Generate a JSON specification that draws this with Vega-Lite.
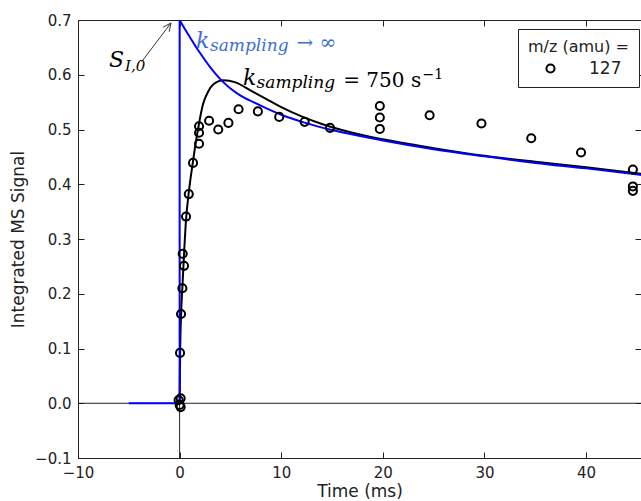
{
  "$schema": "https://vega.github.io/schema/vega-lite/v6.json",
  "width": 563,
  "height": 438,
  "autosize": "none",
  "padding": {"left": 78, "top": 20, "right": 0, "bottom": 43},
  "background": "white",
  "config": {
    "view": {"stroke": "#222", "strokeWidth": 1},
    "axis": {
      "grid": false,
      "domainColor": "#222",
      "tickColor": "#222",
      "labelColor": "#222",
      "titleColor": "#222",
      "labelFont": "DejaVu Sans",
      "titleFont": "DejaVu Sans",
      "labelFontSize": 15,
      "titleFontSize": 17,
      "titleFontWeight": "normal",
      "tickSize": -6,
      "labelPadding": 13,
      "labelFlush": false,
      "labelOverlap": false
    },
    "legend": {"labelFont": "DejaVu Sans", "titleFont": "DejaVu Sans"}
  },
  "datasets": {
    "blueStep": [
      {"t": -5, "v": 0, "o": 1},
      {"t": 0, "v": 0, "o": 2},
      {"t": 0, "v": 0.7, "o": 3}
    ],
    "blueDecay": [
      {"t": 0, "v": 0.7}, {"t": 0.5, "v": 0.684}, {"t": 1, "v": 0.669}, {"t": 1.5, "v": 0.654},
      {"t": 2.3, "v": 0.632}, {"t": 3, "v": 0.614}, {"t": 4, "v": 0.592}, {"t": 5, "v": 0.575},
      {"t": 6, "v": 0.562}, {"t": 7.25, "v": 0.55}, {"t": 8.5, "v": 0.539}, {"t": 10, "v": 0.527},
      {"t": 12.2, "v": 0.513}, {"t": 15, "v": 0.499}, {"t": 17.5, "v": 0.489}, {"t": 20, "v": 0.48},
      {"t": 25, "v": 0.464}, {"t": 30, "v": 0.451}, {"t": 35, "v": 0.439}, {"t": 40, "v": 0.429},
      {"t": 45.4, "v": 0.417}
    ],
    "black": [
      {"t": 0, "v": 0}, {"t": 0.05, "v": 0.09}, {"t": 0.15, "v": 0.165}, {"t": 0.28, "v": 0.215},
      {"t": 0.4, "v": 0.26}, {"t": 0.63, "v": 0.335}, {"t": 0.9, "v": 0.385}, {"t": 1.3, "v": 0.44},
      {"t": 1.9, "v": 0.51}, {"t": 2.3, "v": 0.546}, {"t": 2.8, "v": 0.569}, {"t": 3.3, "v": 0.582},
      {"t": 4.3, "v": 0.59}, {"t": 5.5, "v": 0.586}, {"t": 7, "v": 0.571}, {"t": 8.5, "v": 0.556},
      {"t": 10, "v": 0.541}, {"t": 12, "v": 0.524}, {"t": 14, "v": 0.51}, {"t": 17, "v": 0.494},
      {"t": 20, "v": 0.482}, {"t": 25, "v": 0.466}, {"t": 30, "v": 0.452}, {"t": 35, "v": 0.441},
      {"t": 40, "v": 0.431}, {"t": 45.4, "v": 0.419}
    ],
    "points": [
      {"t": -0.1, "v": 0.006, "mz": "127"}, {"t": 0.1, "v": 0.009, "mz": "127"},
      {"t": 0.0, "v": -0.003, "mz": "127"}, {"t": 0.1, "v": -0.007, "mz": "127"},
      {"t": 0.04, "v": 0.092, "mz": "127"}, {"t": 0.14, "v": 0.163, "mz": "127"},
      {"t": 0.27, "v": 0.21, "mz": "127"}, {"t": 0.43, "v": 0.251, "mz": "127"},
      {"t": 0.3, "v": 0.273, "mz": "127"}, {"t": 0.63, "v": 0.341, "mz": "127"},
      {"t": 0.9, "v": 0.382, "mz": "127"}, {"t": 1.32, "v": 0.439, "mz": "127"},
      {"t": 1.91, "v": 0.474, "mz": "127"}, {"t": 1.91, "v": 0.494, "mz": "127"},
      {"t": 1.91, "v": 0.506, "mz": "127"}, {"t": 2.9, "v": 0.516, "mz": "127"},
      {"t": 3.8, "v": 0.5, "mz": "127"}, {"t": 4.8, "v": 0.512, "mz": "127"},
      {"t": 5.8, "v": 0.537, "mz": "127"}, {"t": 7.7, "v": 0.533, "mz": "127"},
      {"t": 9.8, "v": 0.523, "mz": "127"}, {"t": 12.3, "v": 0.514, "mz": "127"},
      {"t": 14.8, "v": 0.503, "mz": "127"}, {"t": 19.7, "v": 0.543, "mz": "127"},
      {"t": 19.7, "v": 0.522, "mz": "127"}, {"t": 19.7, "v": 0.501, "mz": "127"},
      {"t": 24.6, "v": 0.526, "mz": "127"}, {"t": 29.7, "v": 0.511, "mz": "127"},
      {"t": 34.6, "v": 0.484, "mz": "127"}, {"t": 39.5, "v": 0.458, "mz": "127"},
      {"t": 44.6, "v": 0.427, "mz": "127"}, {"t": 44.6, "v": 0.396, "mz": "127"},
      {"t": 44.6, "v": 0.388, "mz": "127"}
    ],
    "arrow": [
      {"t": -3.73, "v": 0.624, "t2": -0.85, "v2": 0.6945},
      {"t": -1.63, "v": 0.6868, "t2": -0.85, "v2": 0.6945},
      {"t": -1.03, "v": 0.6785, "t2": -0.85, "v2": 0.6945}
    ]
  },
  "resolve": {"axis": {"x": "independent", "y": "independent"}},
  "layer": [
    {
      "data": {"values": [{"v": 0}]},
      "mark": {"type": "rule", "color": "#222", "strokeWidth": 1},
      "encoding": {
        "y": {"field": "v", "type": "quantitative", "axis": null,
              "scale": {"domain": [-0.1, 0.7], "nice": false, "zero": false}}
      }
    },
    {
      "data": {"values": [{"t": 0}]},
      "mark": {"type": "rule", "color": "#222", "strokeWidth": 1},
      "encoding": {
        "x": {"field": "t", "type": "quantitative", "axis": null,
              "scale": {"domain": [-10, 45.4], "nice": false, "zero": false}}
      }
    },
    {
      "data": {"name": "black"},
      "mark": {"type": "line", "color": "black", "strokeWidth": 2, "interpolate": "monotone", "clip": true},
      "encoding": {
        "x": {"field": "t", "type": "quantitative",
              "axis": {"orient": "top", "labels": false, "title": null, "values": [-10, 0, 10, 20, 30, 40], "domain": false}},
        "y": {"field": "v", "type": "quantitative",
              "axis": {"orient": "right", "labels": false, "title": null, "values": [-0.1, 0, 0.1, 0.2, 0.3, 0.4, 0.5, 0.6, 0.7], "domain": false}}
      }
    },
    {
      "data": {"name": "blueStep"},
      "mark": {"type": "line", "color": "#0000ff", "strokeWidth": 2},
      "encoding": {
        "x": {"field": "t", "type": "quantitative", "axis": null},
        "y": {"field": "v", "type": "quantitative", "axis": null},
        "order": {"field": "o"}
      }
    },
    {
      "data": {"name": "blueDecay"},
      "mark": {"type": "line", "color": "#0000ff", "strokeWidth": 2, "interpolate": "monotone", "clip": true},
      "encoding": {
        "x": {"field": "t", "type": "quantitative", "axis": null},
        "y": {"field": "v", "type": "quantitative", "axis": null}
      }
    },
    {
      "data": {"name": "points"},
      "mark": {"type": "point", "shape": "circle", "filled": false, "strokeWidth": 2, "size": 66, "opacity": 1, "clip": true},
      "encoding": {
        "x": {"field": "t", "type": "quantitative",
              "axis": {"orient": "bottom", "title": "Time (ms)", "values": [-10, 0, 10, 20, 30, 40], "titlePadding": 3}},
        "y": {"field": "v", "type": "quantitative",
              "axis": {"orient": "left", "title": "Integrated MS Signal", "format": ".1f",
                       "values": [-0.1, 0, 0.1, 0.2, 0.3, 0.4, 0.5, 0.6, 0.7], "titlePadding": 7}},
        "stroke": {"field": "mz", "type": "nominal", "scale": {"range": ["black"]},
                   "legend": {"title": "m/z (amu) =", "orient": "none", "legendX": 440, "legendY": 9,
                              "strokeColor": "#222", "fillColor": "white", "padding": 10,
                              "titleFontSize": 16, "titleFontWeight": "normal", "titleColor": "#222",
                              "labelFontSize": 17, "labelColor": "#222", "symbolType": "circle",
                              "symbolSize": 66, "symbolStrokeWidth": 2, "symbolStrokeColor": "black",
                              "symbolOpacity": 1, "symbolOffset": 14,
                              "labelOffset": 30, "titlePadding": 5}}
      }
    },
    {
      "data": {"name": "arrow"},
      "mark": {"type": "rule", "color": "#333", "strokeWidth": 1},
      "encoding": {
        "x": {"field": "t", "type": "quantitative", "axis": null},
        "y": {"field": "v", "type": "quantitative", "axis": null},
        "x2": {"field": "t2"},
        "y2": {"field": "v2"}
      }
    },
    {
      "data": {"values": [{"t": 6.24, "v": 0.5813, "label": "k"}]},
      "mark": {"type": "text", "font": "DejaVu Serif", "fontStyle": "italic", "fontSize": 22, "align": "left", "baseline": "alphabetic", "color": "black"},
      "encoding": {
        "x": {"field": "t", "type": "quantitative", "axis": null},
        "y": {"field": "v", "type": "quantitative", "axis": null},
        "text": {"field": "label"}
      }
    },
    {
      "data": {"values": [{"t": 2.99, "v": 0.6425, "label": "sampling"}]},
      "mark": {"type": "text", "font": "DejaVu Serif", "fontStyle": "italic", "fontSize": 17, "align": "left", "baseline": "alphabetic", "color": "#3d6fd0"},
      "encoding": {
        "x": {"field": "t", "type": "quantitative", "axis": null},
        "y": {"field": "v", "type": "quantitative", "axis": null},
        "text": {"field": "label"}
      }
    },
    {
      "data": {"values": [{"t": 1.61, "v": 0.649, "label": "k"}]},
      "mark": {"type": "text", "font": "DejaVu Serif", "fontStyle": "italic", "fontSize": 22, "align": "left", "baseline": "alphabetic", "color": "#3d6fd0"},
      "encoding": {
        "x": {"field": "t", "type": "quantitative", "axis": null},
        "y": {"field": "v", "type": "quantitative", "axis": null},
        "text": {"field": "label"}
      }
    },
    {
      "data": {"values": [{"t": 11.5, "v": 0.647, "label": "→ ∞"}]},
      "mark": {"type": "text", "font": "DejaVu Serif", "fontSize": 20, "align": "left", "baseline": "alphabetic", "color": "#3d6fd0"},
      "encoding": {
        "x": {"field": "t", "type": "quantitative", "axis": null},
        "y": {"field": "v", "type": "quantitative", "axis": null},
        "text": {"field": "label"}
      }
    },
    {
      "data": {"values": [{"t": 7.57, "v": 0.575, "label": "sampling"}]},
      "mark": {"type": "text", "font": "DejaVu Serif", "fontStyle": "italic", "fontSize": 17, "align": "left", "baseline": "alphabetic", "color": "black"},
      "encoding": {
        "x": {"field": "t", "type": "quantitative", "axis": null},
        "y": {"field": "v", "type": "quantitative", "axis": null},
        "text": {"field": "label"}
      }
    },
    {
      "data": {"values": [{"t": 16.1, "v": 0.5785, "label": "= 750 s"}]},
      "mark": {"type": "text", "font": "DejaVu Serif", "fontSize": 20, "align": "left", "baseline": "alphabetic", "color": "black"},
      "encoding": {
        "x": {"field": "t", "type": "quantitative", "axis": null},
        "y": {"field": "v", "type": "quantitative", "axis": null},
        "text": {"field": "label"}
      }
    },
    {
      "data": {"values": [{"t": 23.9, "v": 0.592, "label": "−1"}]},
      "mark": {"type": "text", "font": "DejaVu Serif", "fontSize": 14, "align": "left", "baseline": "alphabetic", "color": "black"},
      "encoding": {
        "x": {"field": "t", "type": "quantitative", "axis": null},
        "y": {"field": "v", "type": "quantitative", "axis": null},
        "text": {"field": "label"}
      }
    },
    {
      "data": {"values": [{"t": -6.95, "v": 0.6142, "label": "S"}]},
      "mark": {"type": "text", "font": "DejaVu Serif", "fontStyle": "italic", "fontSize": 22, "align": "left", "baseline": "alphabetic", "color": "black"},
      "encoding": {
        "x": {"field": "t", "type": "quantitative", "axis": null},
        "y": {"field": "v", "type": "quantitative", "axis": null},
        "text": {"field": "label"}
      }
    },
    {
      "data": {"values": [{"t": -5.37, "v": 0.6077, "label": "I,0"}]},
      "mark": {"type": "text", "font": "DejaVu Serif", "fontStyle": "italic", "fontSize": 15, "align": "left", "baseline": "alphabetic", "color": "black"},
      "encoding": {
        "x": {"field": "t", "type": "quantitative", "axis": null},
        "y": {"field": "v", "type": "quantitative", "axis": null},
        "text": {"field": "label"}
      }
    }
  ]
}
